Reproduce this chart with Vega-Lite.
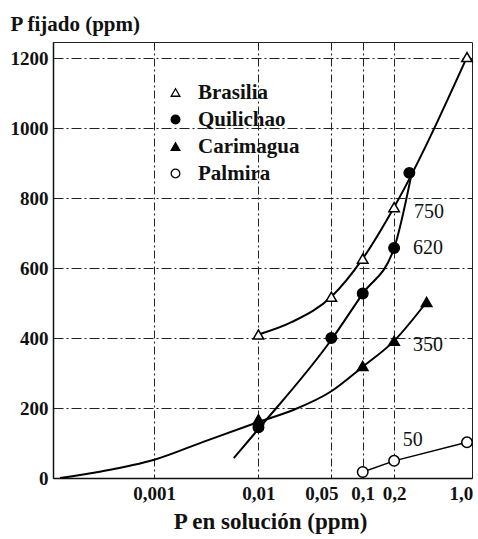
{
  "$schema": "https://vega.github.io/schema/vega-lite/v6.json",
  "width": 419,
  "height": 436,
  "autosize": {"type": "none"},
  "padding": {"left": 53, "top": 42, "right": 6, "bottom": 61},
  "background": "white",
  "config": {
    "view": {"stroke": "#222", "strokeWidth": 1},
    "font": "Liberation Serif"
  },
  "datasets": {
    "points": [
      {"x": 0.01, "y": 410, "s": "Brasilia"},
      {"x": 0.05, "y": 518, "s": "Brasilia"},
      {"x": 0.1, "y": 627, "s": "Brasilia"},
      {"x": 0.2, "y": 774, "s": "Brasilia"},
      {"x": 1.0, "y": 1203, "s": "Brasilia"},
      {"x": 0.01, "y": 145, "s": "Quilichao"},
      {"x": 0.05, "y": 400, "s": "Quilichao"},
      {"x": 0.1, "y": 527, "s": "Quilichao"},
      {"x": 0.2, "y": 657, "s": "Quilichao"},
      {"x": 0.28, "y": 872, "s": "Quilichao"},
      {"x": 0.01, "y": 168, "s": "Carimagua"},
      {"x": 0.1, "y": 320, "s": "Carimagua"},
      {"x": 0.2, "y": 392, "s": "Carimagua"},
      {"x": 0.41, "y": 503, "s": "Carimagua"},
      {"x": 0.1, "y": 17, "s": "Palmira"},
      {"x": 0.2, "y": 49, "s": "Palmira"},
      {"x": 1.0, "y": 102, "s": "Palmira"}
    ],
    "curves": [
      {"c": "B", "o": 1, "x": 0.01, "y": 410},
      {"c": "B", "o": 2, "x": 0.021, "y": 446},
      {"c": "B", "o": 3, "x": 0.05, "y": 518},
      {"c": "B", "o": 4, "x": 0.1, "y": 627},
      {"c": "B", "o": 5, "x": 0.2, "y": 774},
      {"c": "B", "o": 6, "x": 1.0, "y": 1203},
      {"c": "Q", "o": 1, "x": 0.0058, "y": 57},
      {"c": "Q", "o": 2, "x": 0.01, "y": 140},
      {"c": "Q", "o": 3, "x": 0.05, "y": 395},
      {"c": "Q", "o": 4, "x": 0.1, "y": 527},
      {"c": "Q", "o": 5, "x": 0.2, "y": 657},
      {"c": "Q", "o": 6, "x": 0.29, "y": 860},
      {"c": "C", "o": 1, "x": 0.000125, "y": 0},
      {"c": "C", "o": 2, "x": 0.0003, "y": 18},
      {"c": "C", "o": 3, "x": 0.001, "y": 52},
      {"c": "C", "o": 4, "x": 0.003, "y": 104},
      {"c": "C", "o": 5, "x": 0.01, "y": 160},
      {"c": "C", "o": 6, "x": 0.021, "y": 193},
      {"c": "C", "o": 7, "x": 0.05, "y": 248},
      {"c": "C", "o": 8, "x": 0.1, "y": 318},
      {"c": "C", "o": 9, "x": 0.2, "y": 392},
      {"c": "C", "o": 10, "x": 0.41, "y": 503},
      {"c": "P", "o": 1, "x": 0.1, "y": 17},
      {"c": "P", "o": 2, "x": 0.2, "y": 49},
      {"c": "P", "o": 3, "x": 1.0, "y": 102}
    ],
    "labels": [
      {"x": 0.31, "y": 760, "t": "750"},
      {"x": 0.303, "y": 657, "t": "620"},
      {"x": 0.303, "y": 380, "t": "350"},
      {"x": 0.242, "y": 109, "t": "50"}
    ]
  },
  "layer": [
    {
      "data": {"name": "curves"},
      "transform": [{"filter": "datum.c != 'P'"}],
      "mark": {"type": "line", "interpolate": "monotone", "color": "black", "strokeWidth": 2},
      "encoding": {
        "x": {
          "field": "x", "type": "quantitative",
          "scale": {"type": "log", "domain": [0.000107, 1.117], "nice": false},
          "axis": {
            "values": [0.001, 0.01, 0.05, 0.1, 0.2, 1],
            "labelExpr": "datum.value >= 1 ? '1,0' : replace(format(datum.value, ''), '.', ',')",
            "title": "P en solución (ppm)",
            "titleFont": "Liberation Serif", "titleFontSize": 23, "titleFontWeight": "bold", "titleColor": "#111",
            "titlePadding": 7, "titleX": 217,
            "labelFont": "Liberation Serif", "labelFontSize": 19, "labelFontWeight": "bold", "labelColor": "#111",
            "labelPadding": 6,
            "labelOffset": {"condition": [{"test": "datum.value == 0.05", "value": -10}, {"test": "datum.value >= 1", "value": -6}], "value": 0},
            "labelFlush": false,
            "ticks": false,
            "domainColor": "#111", "domainWidth": 1.5,
            "grid": true, "gridColor": "#222", "gridWidth": 1, "gridDash": [8, 3, 2, 3],
            "gridOpacity": {"condition": {"test": "datum.value >= 1", "value": 0}, "value": 1}
          }
        },
        "y": {
          "field": "y", "type": "quantitative",
          "scale": {"domain": [0, 1246], "nice": false},
          "axis": {
            "values": [0, 200, 400, 600, 800, 1000, 1200],
            "format": "d",
            "title": "P fijado (ppm)",
            "titleAngle": 0, "titleAlign": "left", "titleBaseline": "alphabetic",
            "titleX": -43, "titleY": -12,
            "titleFont": "Liberation Serif", "titleFontSize": 21, "titleFontWeight": "bold", "titleColor": "#111",
            "labelFont": "Liberation Serif", "labelFontSize": 19, "labelFontWeight": "bold", "labelColor": "#111",
            "labelPadding": 5,
            "labelFlush": false,
            "ticks": false,
            "domainColor": "#111", "domainWidth": 1.5,
            "grid": true, "gridColor": "#222", "gridWidth": 1, "gridDash": [10, 3, 2, 3],
            "gridOpacity": {"condition": {"test": "datum.value == 0", "value": 0}, "value": 1}
          }
        },
        "detail": {"field": "c"},
        "order": {"field": "o"}
      }
    },
    {
      "data": {"name": "curves"},
      "transform": [{"filter": "datum.c == 'P'"}],
      "mark": {"type": "line", "color": "black", "strokeWidth": 1.5},
      "encoding": {
        "x": {"field": "x", "type": "quantitative"},
        "y": {"field": "y", "type": "quantitative"},
        "order": {"field": "o"}
      }
    },
    {
      "data": {"name": "points"},
      "mark": {"type": "point", "filled": true, "strokeWidth": 1.5, "size": 110, "opacity": 1},
      "encoding": {
        "x": {"field": "x", "type": "quantitative"},
        "y": {"field": "y", "type": "quantitative"},
        "shape": {
          "field": "s", "type": "nominal",
          "scale": {"domain": ["Brasilia", "Quilichao", "Carimagua", "Palmira"], "range": ["triangle-up", "circle", "triangle-up", "circle"]},
          "legend": {
            "orient": "none", "legendX": 112, "legendY": 40, "title": null,
            "labelFont": "Liberation Serif", "labelFontSize": 21, "labelFontWeight": "bold", "labelColor": "#111",
            "symbolSize": 75, "symbolStrokeWidth": 1.3,
            "labelOffset": 12, "rowPadding": 5
          }
        },
        "fill": {
          "field": "s", "type": "nominal",
          "scale": {"domain": ["Brasilia", "Quilichao", "Carimagua", "Palmira"], "range": ["white", "black", "black", "white"]},
          "legend": {
            "orient": "none", "legendX": 112, "legendY": 40, "title": null,
            "labelFont": "Liberation Serif", "labelFontSize": 21, "labelFontWeight": "bold", "labelColor": "#111",
            "symbolSize": 75, "symbolStrokeWidth": 1.3,
            "labelOffset": 12, "rowPadding": 5
          }
        },
        "stroke": {
          "field": "s", "type": "nominal",
          "scale": {"domain": ["Brasilia", "Quilichao", "Carimagua", "Palmira"], "range": ["black", "black", "black", "black"]},
          "legend": {
            "orient": "none", "legendX": 112, "legendY": 40, "title": null,
            "labelFont": "Liberation Serif", "labelFontSize": 21, "labelFontWeight": "bold", "labelColor": "#111",
            "symbolSize": 75, "symbolStrokeWidth": 1.3,
            "labelOffset": 12, "rowPadding": 5
          }
        }
      }
    },
    {
      "data": {"name": "labels"},
      "mark": {"type": "text", "align": "left", "baseline": "middle", "font": "Liberation Serif", "fontSize": 20, "color": "#111"},
      "encoding": {
        "x": {"field": "x", "type": "quantitative"},
        "y": {"field": "y", "type": "quantitative"},
        "text": {"field": "t"}
      }
    }
  ]
}
